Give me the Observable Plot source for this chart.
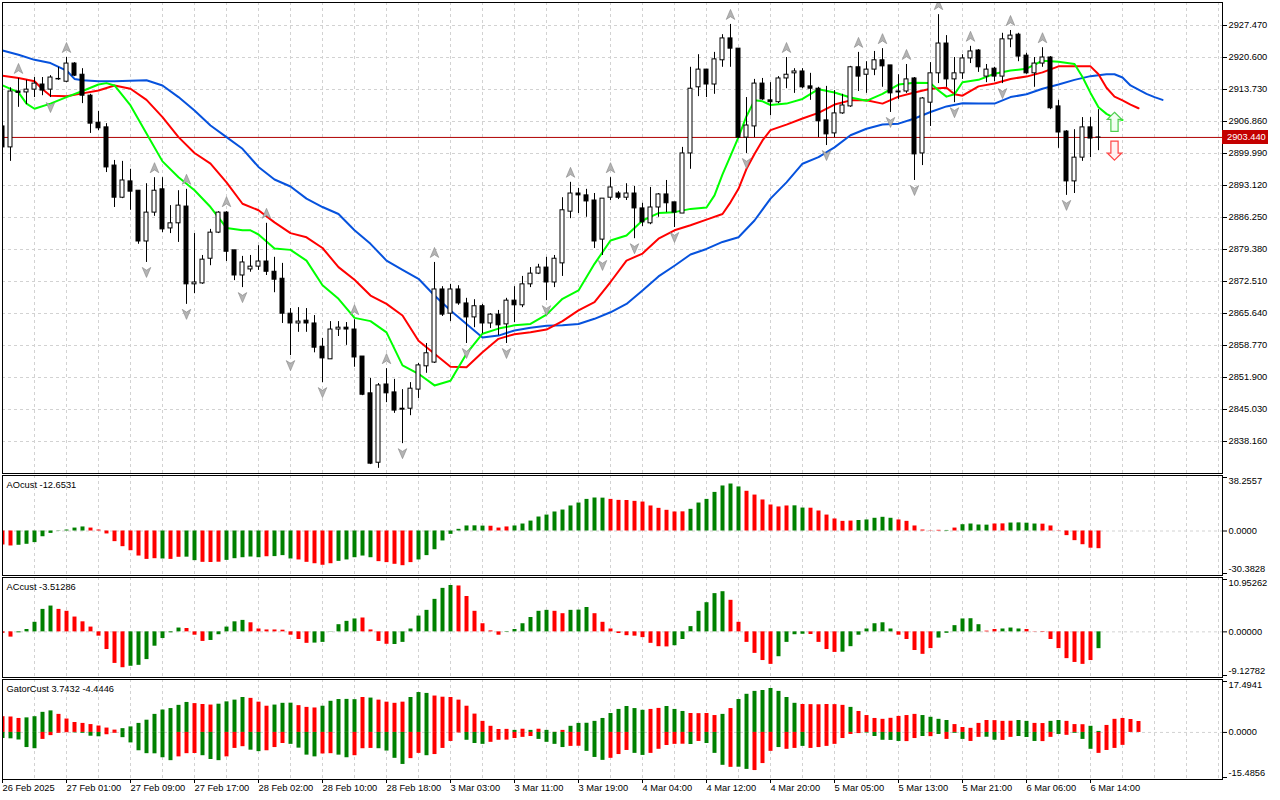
<!DOCTYPE html>
<html><head><meta charset="utf-8">
<script src="https://cdn.jsdelivr.net/npm/d3@7"></script>
<script src="https://cdn.jsdelivr.net/npm/@observablehq/plot@0.6"></script>
<style>
html,body{margin:0;padding:0;background:#fff;}
#chart{position:relative;width:1280px;height:800px;overflow:hidden;background:#fff;}
</style></head><body><div id="chart"></div>
<script>
// ---------- DATA (H1 bars, index 0 = 26 Feb 16:00) ----------
const opens = [2905.8,2901.3,2913.3,2913.1,2913.7,2914.8,2913.7,2915.9,2915.4,2919.3,
2916.9,2912.4,2906.6,2905.6,2897.4,2890.5,2894.0,2892.0,2881.1,2887.3,
2892.3,2883.9,2885.0,2888.6,2871.9,2872.1,2877.4,2883.0,2887.3,2879.2,
2873.8,2875.1,2875.7,2876.8,2874.6,2873.1,2865.6,2863.5,2864.1,2863.5,
2858.5,2855.8,2862.2,2862.6,2862.2,2856.4,2848.5,2833.6,2850.4,2848.7,
2845.2,2845.2,2849.3,2854.3,2855.1,2870.8,2865.6,2870.8,2867.8,2864.8,
2867.2,2863.5,2865.4,2863.3,2868.4,2867.4,2871.9,2874.2,2875.5,2872.3,
2876.4,2887.5,2891.4,2891.0,2889.9,2881.5,2890.5,2891.4,2890.5,2891.4,
2888.2,2885.0,2888.4,2891.2,2889.5,2887.1,2900.0,2914.2,2918.0,2914.8,
2920.0,2924.7,2922.5,2903.4,2905.8,2915.0,2911.4,2911.0,2916.1,2917.2,
2917.6,2914.4,2913.9,2907.1,2904.3,2908.6,2910.1,2918.5,2916.9,2918.0,
2920.0,2918.9,2913.3,2913.3,2916.1,2900.0,2910.9,2917.2,2923.6,2915.9,
2917.2,2920.4,2922.1,2916.5,2918.2,2916.5,2924.5,2925.5,2921.0,2917.2,
2919.3,2920.6,2910.1,2904.7,2894.0,2899.1,2905.6,2903.4];
const highs = [2906.2,2914.1,2916.1,2915.7,2916.3,2916.3,2916.7,2918.5,2920.6,2919.5,
2918.2,2912.7,2909.0,2906.4,2898.5,2898.3,2896.6,2892.0,2893.5,2894.8,
2894.8,2888.8,2892.0,2892.3,2882.8,2878.1,2883.7,2887.5,2887.5,2879.2,
2877.9,2878.1,2880.2,2885.0,2877.7,2876.4,2866.7,2866.9,2866.7,2865.2,
2860.3,2863.9,2863.9,2863.7,2864.3,2856.4,2851.7,2850.6,2853.8,2851.5,
2849.3,2850.8,2854.9,2859.2,2876.6,2871.4,2871.9,2871.6,2868.9,2868.6,
2867.6,2865.6,2866.3,2868.9,2871.4,2873.6,2875.5,2876.2,2877.7,2878.1,
2890.5,2893.8,2892.5,2892.3,2891.4,2890.3,2894.8,2891.8,2893.5,2892.9,
2889.3,2892.7,2891.4,2894.2,2889.5,2901.3,2918.5,2921.2,2918.0,2921.7,
2925.5,2927.7,2922.5,2912.0,2915.9,2916.1,2915.2,2916.5,2920.6,2918.2,
2918.2,2917.2,2914.2,2914.4,2913.5,2912.7,2918.7,2921.7,2919.7,2921.9,
2922.5,2918.9,2916.9,2919.1,2916.3,2912.0,2919.5,2929.8,2925.3,2920.6,
2921.2,2923.0,2922.3,2919.1,2918.5,2925.8,2926.4,2925.8,2921.5,2920.6,
2922.7,2920.8,2911.4,2904.9,2905.1,2907.7,2907.7,2909.4];
const lows = [2900.6,2898.3,2909.9,2910.5,2912.0,2912.4,2912.0,2915.7,2915.2,2916.5,
2910.7,2904.3,2904.9,2895.9,2888.4,2890.3,2887.8,2880.5,2876.6,2886.5,
2883.0,2882.8,2880.9,2867.6,2869.9,2871.9,2875.9,2882.8,2876.8,2872.7,
2871.2,2874.5,2874.9,2873.8,2870.1,2863.5,2856.6,2861.6,2861.6,2857.2,
2850.8,2855.8,2860.7,2858.8,2854.1,2848.0,2833.2,2832.4,2846.5,2844.2,
2837.7,2843.7,2847.4,2852.8,2854.9,2865.0,2863.9,2867.4,2859.2,2862.6,
2861.3,2862.4,2860.9,2859.2,2863.7,2866.9,2871.2,2874.0,2868.4,2871.2,
2873.6,2886.0,2887.1,2886.3,2879.6,2878.1,2889.9,2890.1,2889.9,2881.7,
2884.3,2884.7,2886.3,2887.3,2884.1,2887.1,2896.6,2912.2,2912.0,2912.7,
2918.5,2918.5,2903.2,2900.0,2903.4,2911.4,2908.1,2910.7,2913.9,2912.9,
2913.9,2911.4,2903.4,2901.7,2903.4,2908.4,2909.9,2913.3,2912.9,2916.7,
2914.2,2908.8,2911.6,2912.9,2894.2,2897.4,2905.8,2915.0,2914.2,2910.9,
2915.9,2919.3,2917.4,2915.2,2915.4,2915.0,2922.7,2919.7,2917.0,2914.2,
2918.5,2909.4,2901.1,2891.0,2891.4,2898.3,2899.1,2900.6];
const closes = [2901.3,2913.3,2913.0,2913.7,2915.0,2913.5,2916.3,2916.0,2919.3,2916.7,
2912.4,2906.4,2905.4,2897.0,2890.5,2894.2,2891.8,2881.1,2887.3,2892.0,
2883.7,2885.0,2888.8,2871.9,2872.3,2877.2,2883.0,2887.3,2878.9,2873.8,
2876.6,2875.7,2876.8,2874.6,2872.9,2865.6,2863.5,2863.9,2863.5,2858.3,
2856.0,2862.2,2862.6,2862.2,2856.2,2848.2,2833.4,2850.2,2848.5,2844.8,
2845.0,2849.5,2854.5,2857.1,2870.8,2865.4,2870.8,2867.8,2864.8,2867.2,
2863.5,2865.4,2863.1,2868.4,2867.4,2871.9,2874.2,2875.5,2872.3,2877.4,
2887.8,2891.4,2891.0,2889.7,2881.1,2890.3,2892.7,2890.5,2891.4,2888.2,
2885.2,2888.4,2891.2,2889.3,2887.3,2900.0,2913.9,2918.0,2914.8,2920.2,
2924.7,2922.5,2903.4,2906.0,2915.0,2911.6,2911.0,2916.1,2916.9,2917.6,
2914.2,2913.9,2906.9,2904.1,2908.6,2910.3,2918.5,2916.5,2918.0,2920.0,
2918.7,2912.9,2913.1,2915.9,2899.8,2911.8,2917.2,2923.6,2915.9,2917.2,
2920.4,2921.9,2918.5,2918.0,2916.5,2924.5,2925.3,2920.8,2917.2,2919.3,
2920.6,2909.7,2904.5,2894.0,2899.1,2905.6,2903.2,2903.44];

// Alligator lines: [bar, price]
const jawLine = [[0,2922.1],[2,2921.2],[4,2920.1],[6,2919.4],[8,2917.8],[9,2916.0],[10,2915.7],[12,2915.5],[14,2915.5],[16,2915.6],[18,2915.7],[20,2914.6],[22,2912.1],[24,2909.2],[26,2906.0],[28,2903.5],[30,2901.0],[32,2897.1],[34,2894.4],[36,2892.9],[38,2890.3],[40,2888.5],[42,2887.0],[44,2883.5],[46,2880.6],[48,2877.0],[50,2875.0],[52,2873.1],[54,2869.5],[56,2866.3],[58,2863.4],[60,2860.5],[62,2860.9],[64,2862.0],[66,2862.6],[68,2863.0],[70,2863.1],[72,2863.4],[74,2864.5],[76,2865.9],[78,2867.7],[80,2870.6],[82,2873.6],[84,2875.9],[86,2878.3],[88,2879.5],[90,2881.0],[92,2882.0],[94,2885.6],[96,2890.3],[98,2893.8],[100,2897.8],[102,2899.2],[104,2901.3],[106,2903.9],[108,2905.3],[110,2906.2],[112,2906.4],[114,2907.5],[116,2908.9],[118,2910.1],[120,2910.8],[122,2910.7],[124,2910.7],[126,2912.1],[128,2912.7],[130,2913.9],[132,2914.8],[134,2915.8],[136,2916.6],[138,2917.0],[139,2917.0],[140,2916.3],[141,2914.6],[142,2913.7],[143,2912.8],[144,2912.1],[145,2911.5]];
const teethLine = [[0,2916.7],[2,2916.2],[4,2915.5],[5,2913.8],[6,2912.4],[8,2912.3],[10,2912.9],[12,2913.5],[14,2914.6],[16,2913.9],[18,2911.5],[20,2907.8],[22,2903.5],[24,2900.1],[26,2897.8],[28,2893.8],[30,2889.2],[32,2887.8],[34,2885.2],[36,2882.9],[38,2882.0],[40,2879.7],[42,2875.6],[44,2872.9],[46,2869.5],[48,2867.7],[50,2865.2],[52,2859.8],[54,2857.0],[56,2854.2],[58,2854.1],[60,2857.3],[62,2860.2],[64,2861.2],[66,2861.6],[68,2862.2],[70,2864.0],[72,2866.3],[74,2868.1],[76,2872.4],[78,2877.0],[80,2878.5],[82,2881.7],[84,2883.5],[86,2884.6],[88,2885.8],[90,2887.0],[91,2889.5],[92,2892.4],[93,2896.7],[94,2899.9],[95,2902.8],[96,2905.0],[98,2906.2],[100,2907.5],[102,2908.7],[104,2910.5],[106,2911.4],[108,2911.4],[110,2910.7],[112,2912.2],[114,2913.1],[116,2913.9],[118,2914.1],[119,2912.7],[120,2912.4],[122,2914.4],[124,2915.0],[126,2916.0],[128,2916.5],[130,2917.4],[132,2918.7],[134,2918.7],[136,2918.7],[137,2917.0],[138,2914.1],[139,2912.2],[140,2911.4],[141,2910.5],[142,2909.7]];
const lipsLine = [[0,2914.6],[2,2913.1],[3,2910.7],[4,2909.6],[6,2910.7],[8,2912.1],[10,2913.4],[12,2914.8],[13,2915.1],[14,2914.6],[16,2910.3],[18,2904.3],[20,2898.3],[22,2894.9],[24,2892.1],[26,2888.5],[28,2884.0],[30,2883.5],[31,2883.5],[32,2882.6],[34,2879.6],[36,2879.3],[38,2877.0],[40,2871.7],[42,2868.8],[44,2864.7],[46,2864.0],[48,2861.6],[50,2854.5],[52,2852.7],[54,2850.2],[56,2851.2],[58,2857.0],[60,2861.3],[62,2862.4],[64,2863.1],[66,2863.4],[68,2865.4],[70,2868.8],[72,2870.6],[74,2876.3],[76,2881.3],[78,2882.4],[80,2885.6],[82,2887.2],[84,2887.4],[86,2888.1],[88,2888.4],[89,2891.0],[90,2895.5],[91,2899.5],[92,2903.5],[93,2908.0],[94,2911.4],[95,2911.2],[96,2910.4],[98,2910.7],[100,2911.7],[102,2913.8],[104,2913.1],[106,2912.0],[108,2911.3],[110,2912.8],[112,2914.8],[114,2915.2],[116,2915.1],[117,2913.5],[118,2912.2],[119,2912.7],[120,2915.3],[122,2915.8],[124,2917.1],[126,2917.8],[128,2918.2],[130,2919.9],[132,2919.7],[134,2919.2],[135,2916.4],[136,2913.0],[137,2909.9],[138,2908.5],[139,2907.6],[140,2907.2]];

const fractalUpBars = [2,8,19,23,28,33,44,48,54,71,76,91,98,107,110,113,117,121,126,130];
const fractalDownBars = [6,18,23,30,36,40,47,50,58,63,68,75,79,84,93,103,111,114,119,125,133];
const signalUp = [{bar:139, price:2906.8}];
const signalDown = [{bar:139, price:2900.6}];
const lastPrice = 2903.44;

const priceTicks = [2927.47,2920.60,2913.73,2906.86,2899.99,2893.12,2886.25,2879.38,2872.51,2865.64,2858.77,2851.90,2845.03,2838.16];

const aoValues = [-10.0,-10.7,-10.2,-9.5,-8.3,-4.1,-1.7,-0.2,0.7,2.1,
2.9,2.1,0.7,-2.1,-7.6,-11.2,-14.1,-17.9,-20.3,-19.8,
-20.0,-20.3,-18.8,-18.7,-21.2,-22.4,-22.5,-22.3,-21.0,-19.8,
-19.1,-18.6,-19.1,-18.4,-18.3,-17.6,-20.0,-20.7,-22.4,-23.4,
-24.5,-23.4,-21.7,-20.7,-19.1,-17.9,-19.1,-21.9,-22.6,-23.8,
-24.8,-22.6,-20.7,-17.6,-13.4,-7.1,-2.4,1.2,3.6,3.7,
3.5,3.4,2.1,2.9,3.6,5.0,7.1,10.0,11.4,13.6,
15.0,17.9,20.0,22.6,23.6,23.5,22.6,21.9,21.8,21.2,
20.7,17.9,16.2,14.8,13.6,13.7,15.5,20.0,22.6,27.6,
32.2,33.6,31.5,28.4,25.7,22.2,18.6,17.2,17.9,18.0,
16.4,16.3,14.3,11.4,8.6,6.9,7.1,7.5,7.9,9.1,
9.8,9.1,7.9,6.9,3.6,0.7,-0.2,0.5,0.4,2.1,
4.5,5.0,4.3,4.2,5.0,5.1,5.7,5.8,5.6,5.0,
4.9,3.6,-0.2,-3.3,-6.9,-9.8,-12.3,-12.6531];
const aoColors = "rrgggggggggrrrrrrrrrgrrggrrrgggggrgggrrrrrgggggrrrrrgggggggggrrrggggggggggggrrrrrrrrrrgggggggrrrrrrggrrrrrrgggggrrrrrrgrggggrrggggrrrrrrrrrr";
const acValues = [-0.3,-1.1,-0.2,0.5,2.0,4.7,5.4,4.7,4.3,3.1,
2.1,1.0,-0.9,-3.7,-6.6,-7.5,-7.2,-7.0,-5.8,-3.0,
-1.4,-0.2,0.8,0.7,-0.7,-2.0,-1.8,-0.6,1.0,2.1,
2.4,1.9,0.6,0.4,0.4,0.35,-0.7,-1.6,-2.4,-2.35,
-2.2,0.05,1.5,2.2,2.7,2.9,0.4,-2.0,-2.6,-2.65,
-2.2,0.6,3.3,4.5,6.8,9.1,9.7,9.6,7.4,4.3,
1.7,0.2,-0.7,-0.1,0.5,1.7,3.0,4.3,4.5,4.3,
3.8,4.5,4.55,5.1,3.8,2.0,0.6,-0.35,-0.8,-0.9,
-1.2,-2.4,-3.1,-3.15,-2.9,-1.6,1.1,4.3,6.1,8.0,
8.4,6.6,2.0,-2.2,-4.5,-6.0,-6.8,-5.2,-2.2,-0.6,
-0.5,-0.55,-2.2,-3.7,-4.3,-4.25,-3.1,-0.7,0.6,1.7,
1.9,0.6,-0.7,-1.6,-3.9,-4.7,-3.5,-1.3,-0.3,1.3,
2.7,2.75,1.5,0.15,0.5,0.6,0.8,0.6,0.5,-0.05,
-0.1,-1.6,-3.5,-5.6,-6.4,-6.8,-6.0,-3.51286];
const acColors = "rrgggggrrrrrrrrrgggggggrrrgggggrrrrrrrrggggggrrrrggggggggrrrrrrggggggrrgggrrrrrrrrrrgggggggrrrrrrggggrrrrgggggggrrrrrggggggrrgggrrrrrrrrrgg";
const gatorUpValues = [5.4,5.3,4.8,5.0,5.4,6.9,7.4,6.2,4.6,3.4,
3.1,2.7,2.2,1.5,0.8,1.3,1.9,3.1,4.2,6.2,
7.7,8.2,9.3,10.3,9.9,9.6,9.4,9.7,10.5,11.1,
12.0,11.7,10.4,9.0,9.4,10.0,10.05,9.2,8.6,8.4,
9.0,10.7,11.3,11.35,11.25,12.0,11.8,11.1,10.4,10.0,
10.4,12.0,13.7,13.4,12.5,12.1,12.0,11.1,9.0,6.3,
3.8,2.1,1.0,1.05,0.7,1.1,0.7,1.1,0.7,0.05,
0.7,2.1,3.1,3.15,3.8,4.8,6.5,7.9,8.9,8.2,
7.6,7.9,8.25,8.9,7.9,7.2,6.5,6.45,6.5,5.8,
6.2,8.2,11.3,13.1,14.1,14.4,15.1,14.1,12.0,10.0,
9.6,9.55,9.5,9.6,9.55,9.3,8.6,7.2,5.8,4.8,
4.5,4.85,5.5,5.8,6.2,5.8,5.2,4.5,4.1,2.7,
1.7,1.4,3.1,4.1,4.05,3.8,3.85,4.1,3.8,3.1,
3.05,3.8,4.1,3.8,2.7,2.65,2.1,0.35,2.4,4.5,
4.8,4.45,3.7432];
const gatorUpColors = "rrrggggrrrrrrrrgggggggggrrrggggrrrgggrrrgggggrgrrrrgggrrrrrrrrrrgrgrgrrggggggggggrrgggrrrrgrggggggggrrrrrrgrrrrrrrrggggrrrrrrrrggrrggrrrggrrrrrgggrr";
const gatorDnValues = [-2.1,-2.2,-2.6,-5.2,-5.6,-2.4,-1.1,-0.3,-0.1,-0.15,
-0.3,-1.3,-1.5,-0.8,-0.3,-1.8,-3.6,-6.3,-7.3,-7.35,
-8.7,-9.7,-8.4,-7.3,-7.25,-8.0,-9.3,-9.7,-8.4,-5.5,
-4.9,-6.1,-6.6,-6.3,-5.2,-3.8,-4.1,-5.4,-7.8,-8.4,
-7.4,-7.3,-7.8,-8.7,-8.0,-5.6,-5.5,-5.6,-6.4,-8.9,
-11.0,-9.0,-7.2,-8.0,-7.6,-5.5,-3.1,-0.2,-2.7,-3.8,
-4.1,-3.4,-2.7,-2.65,-2.1,-1.7,-1.4,-2.4,-3.4,-4.1,
-5.2,-4.8,-4.75,-6.5,-8.6,-9.6,-8.9,-7.6,-6.2,-7.2,
-7.9,-7.2,-5.8,-4.5,-4.1,-4.05,-4.15,-3.1,-3.8,-7.2,
-11.3,-12.0,-11.95,-12.7,-13.1,-10.7,-6.5,-5.2,-5.8,-5.5,
-4.8,-5.5,-5.2,-4.8,-4.1,-2.1,-0.7,-0.4,-0.2,-1.4,
-2.7,-2.75,-3.1,-3.15,-2.1,-1.4,-1.45,-0.7,-2.4,-0.3,
-2.4,-3.1,-1.7,-1.65,-2.7,-2.75,-1.7,-1.4,-1.75,-3.1,
-3.15,-1.7,-0.7,-1.0,-0.3,-2.4,-5.8,-7.2,-6.2,-5.5,
-4.4446];
const gatorDnColors = "gggggrrrrggggrrgggggggrrrgggrrrggrrrggggrrggrrrggggrrgrrrrgggrrrrrrggggrrgggrrrggrrrrrgrgggrggrrrgrrgrrrrrrrgggggrrgrgrggrrggrrgggrrgrgggrrr";

const xTickBars = [0,8,16,24,32,40,48,56,64,72,80,88,96,104,112,120,128,136];
const xTickLabels = ["26 Feb 2025","27 Feb 01:00","27 Feb 09:00","27 Feb 17:00","28 Feb 02:00","28 Feb 10:00","28 Feb 18:00","3 Mar 03:00","3 Mar 11:00","3 Mar 19:00","4 Mar 04:00","4 Mar 12:00","4 Mar 20:00","5 Mar 05:00","5 Mar 13:00","5 Mar 21:00","6 Mar 06:00","6 Mar 14:00"];

const panelTitles = ["AOcust -12.6531", "ACcust -3.51286", "GatorCust 3.7432 -4.4446"];
const aoAxis = [{v:38.2557,t:"38.2557"},{v:0,t:"0.0000"},{v:-30.3828,t:"-30.3828"}];
const acAxis = [{v:10.95262,t:"10.95262"},{v:0,t:"0.00000"},{v:-9.12782,t:"-9.12782"}];
const gatorAxis = [{v:17.4941,t:"17.4941"},{v:0,t:"0.0000"},{v:-15.4856,t:"-15.4856"}];

// ---------- DRAWING ----------
const FONT = "'Liberation Sans',Arial,sans-serif";
const FSIZE = "9.3px";
const STYLE = {fontFamily: FONT, fontSize: FSIZE, background: "transparent", overflow: "visible", color: "black"};
const GREEN = "#008000", RED = "#ff0000";
const root = document.getElementById("chart");
const X_DOMAIN = [0, 152.5];
const gridBars = d3.range(4, 153, 4);
const GRID = {stroke: "#d2d2d2", strokeOpacity: 1, strokeDasharray: "3,3"};

function place(el, top) {
  el.style.position = "absolute"; el.style.left = "0px"; el.style.top = top + "px";
  root.appendChild(el); return el;
}
const shape = pts => ({draw(ctx, size) {
  const s = Math.sqrt(size / Math.PI);
  pts.forEach(([a, b], k) => k ? ctx.lineTo(a * s, b * s) : ctx.moveTo(a * s, b * s));
  ctx.closePath();
}});
const fractalUp = shape([[0,-1],[0.85,1],[0,0.45],[-0.85,1]]);
const fractalDown = shape([[0,1],[0.85,-1],[0,-0.45],[-0.85,-1]]);
const blockUp = shape([[0,-1],[0.76,-0.25],[0.38,-0.25],[0.38,1],[-0.38,1],[-0.38,-0.25],[-0.76,-0.25]]);
const blockDown = shape([[0,1],[0.76,0.25],[0.38,0.25],[0.38,-1],[-0.38,-1],[-0.38,0.25],[-0.76,0.25]]);

const candles = opens.map((o, i) => ({i, open: o, high: highs[i], low: lows[i], close: closes[i]}));
const upFr = fractalUpBars.map(b => ({bar: b, y: highs[b]}));
const dnFr = fractalDownBars.map(b => ({bar: b, y: lows[b]}));

const main = Plot.plot({
  width: 1280, height: 476, marginLeft: 2, marginRight: 58, marginTop: 2, marginBottom: 3,
  x: {domain: X_DOMAIN, axis: null},
  y: {domain: [2831.29, 2932.408], axis: null},
  style: STYLE,
  marks: [
    Plot.gridX(gridBars, GRID),
    Plot.gridY(priceTicks, GRID),
    Plot.ruleY([lastPrice], {stroke: "#b00000", strokeWidth: 1}),
    Plot.line(jawLine, {x: d => d[0], y: d => d[1], stroke: "#0652dd", strokeWidth: 2, clip: true}),
    Plot.line(teethLine, {x: d => d[0], y: d => d[1], stroke: "#ff0000", strokeWidth: 2, clip: true}),
    Plot.line(lipsLine, {x: d => d[0], y: d => d[1], stroke: "#00ff00", strokeWidth: 2, clip: true}),
    Plot.ruleX(candles, {x: "i", y1: "low", y2: "high", stroke: "black", strokeWidth: 1, clip: true}),
    Plot.rect(candles, {x1: d => d.i - 0.25, x2: d => d.i + 0.25, y1: "open", y2: "close",
      fill: d => d.close >= d.open ? "white" : "black", stroke: "black", strokeWidth: 1, clip: true}),
    Plot.dot(upFr, {x: "bar", y: "y", dy: -10, symbol: fractalUp, r: 5, fill: "#b4b4b4", stroke: "#858585", strokeWidth: 0.6, clip: true}),
    Plot.dot(dnFr, {x: "bar", y: "y", dy: 10, symbol: fractalDown, r: 5, fill: "#b4b4b4", stroke: "#858585", strokeWidth: 0.6, clip: true}),
    Plot.dot(signalUp, {x: "bar", y: "price", symbol: blockUp, r: 9.5, fill: "#f2fff2", stroke: "#4fcf4f", strokeWidth: 1.2}),
    Plot.dot(signalDown, {x: "bar", y: "price", symbol: blockDown, r: 9.5, fill: "#fff2f2", stroke: "#ff4646", strokeWidth: 1.2}),
    Plot.frame({stroke: "black"}),
    Plot.axisY(priceTicks, {anchor: "right", tickSize: 4, tickPadding: 2, tickFormat: d => d.toFixed(3), label: null})
  ]
});
place(main, 0);
const py = main.scale("y").apply(lastPrice);
const tag = document.createElement("div");
tag.textContent = lastPrice.toFixed(3);
Object.assign(tag.style, {position: "absolute", left: "1222px", top: (py - 7) + "px", width: "46px", height: "14px",
  background: "#c40000", color: "white", font: FSIZE + " " + FONT, lineHeight: "14px", paddingLeft: "5px", boxSizing: "border-box", whiteSpace: "nowrap"});
root.appendChild(tag);

function panelMarks(title, axis) {
  return [
    Plot.gridX(gridBars, GRID),
    Plot.ruleY([0], GRID),
    Plot.frame({stroke: "black"}),
    Plot.axisY(axis.map(a => a.v), {anchor: "right", tickSize: 4, tickFormat: () => "", label: null}),
    Plot.text([axis[0]], {y: "v", text: "t", frameAnchor: "right", dx: 6, dy: 4, textAnchor: "start"}),
    Plot.text([axis[1]], {y: "v", text: "t", frameAnchor: "right", dx: 6, dy: 0, textAnchor: "start"}),
    Plot.text([axis[2]], {y: "v", text: "t", frameAnchor: "right", dx: 6, dy: -4, textAnchor: "start"}),
    Plot.text([title], {frameAnchor: "top-left", dx: 4, dy: 6, lineAnchor: "top", textAnchor: "start"})
  ];
}
const hist = (vals, cols) => vals.map((v, i) => ({i, v, c: cols[i]}));
const histMark = (vals, cols) => Plot.ruleX(hist(vals, cols), {x: "i", y1: 0, y2: "v",
  stroke: d => d.c === "g" ? GREEN : RED, strokeWidth: 4, clip: true});

function panel(top, height, mb, axis, title, bars) {
  const pm = panelMarks(title, axis);
  const p = Plot.plot({
    width: 1280, height, marginLeft: 2, marginRight: 58, marginTop: 1, marginBottom: mb,
    x: {domain: X_DOMAIN, axis: null},
    y: {domain: [axis[2].v, axis[0].v], range: [99, 3], axis: null},
    style: STYLE,
    marks: [...pm.slice(0, 2), ...bars, ...pm.slice(2),
      ...(mb > 1 ? [Plot.axisX(xTickBars, {anchor: "bottom", tickSize: 4, tickPadding: 1, textAnchor: "start",
        tickFormat: d => xTickLabels[xTickBars.indexOf(d)], label: null})] : [])]
  });
  return place(p, top);
}
panel(474, 102, 1, aoAxis, panelTitles[0], [histMark(aoValues, aoColors)]);
panel(576, 102, 1, acAxis, panelTitles[1], [histMark(acValues, acColors)]);
panel(678, 122, 21, gatorAxis, panelTitles[2], [histMark(gatorUpValues, gatorUpColors), histMark(gatorDnValues, gatorDnColors)]);
</script></body></html>
